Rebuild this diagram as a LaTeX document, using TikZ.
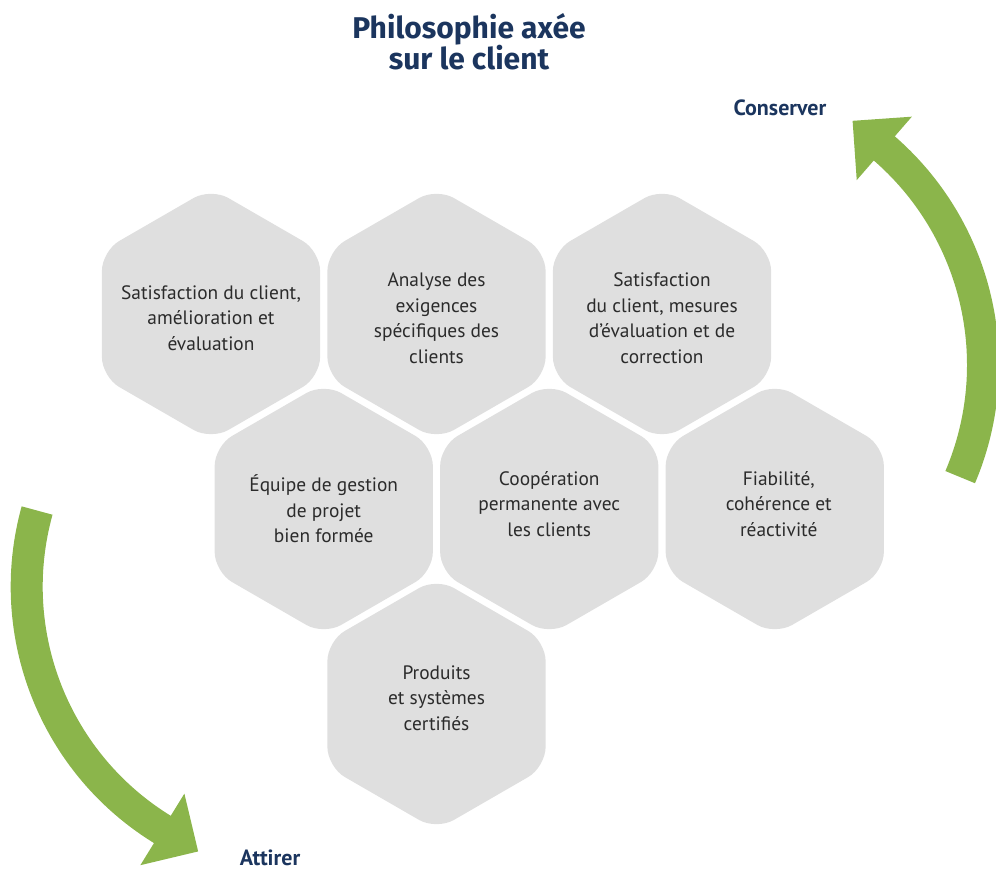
\documentclass[tikz,border=0pt]{standalone}
\usepackage{fontspec}
\setmainfont{PT Sans}
\newfontfamily\titlefont{Fira Sans}
\usetikzlibrary{calc}
\definecolor{hexgray}{HTML}{DFDFDF}
\definecolor{txtgray}{HTML}{2B2B2B}
\definecolor{arrgreen}{HTML}{8BB54B}
\definecolor{navy}{HTML}{1B355E}
\newcommand\hexshape[3]{%
  \coordinate (#1) at (#2,#3);
  \fill[hexbox] ($(#1)+(90:126)$) -- ($(#1)+(150:126)$) -- ($(#1)+(210:126)$) --
    ($(#1)+(270:126)$) -- ($(#1)+(330:126)$) -- ($(#1)+(30:126)$) -- cycle;}
\begin{document}
\begin{tikzpicture}[x=1pt,y=1pt,
  hexbox/.style={fill=hexgray, rounded corners=20pt},
  hextext/.style={align=center, text=txtgray, inner sep=0pt,
    font=\fontsize{19.4}{25.5}\selectfont},
  greenshaft/.style={draw=arrgreen, line width=32pt},
  greenhead/.style={fill=arrgreen},
  labeltext/.style={text=navy, inner sep=0pt, font=\bfseries\fontsize{22}{26}\selectfont}]
\path[use as bounding box] (0,0) rectangle (996,872);
% title
\node[text=navy, align=center, inner sep=0pt,
  font=\titlefont\bfseries\fontsize{30}{31}\selectfont] (title) at (469,830)
  {Philosophie axée\\sur le client};
% hexagons (y up: Y = 872 - y)
\hexshape{h1}{211}{558}
\hexshape{h2}{436.5}{558}
\hexshape{h3}{662}{558}
\hexshape{h4}{323.75}{363}
\hexshape{h5}{549.25}{363}
\hexshape{h6}{774.75}{363}
\hexshape{h7}{436.5}{168}
\node[hextext] (t1) at ($(h1)+(0,-4)$) {Satisfaction du client,\\amélioration et\\évaluation};
\node[hextext] (t2) at ($(h2)+(0,-4)$) {Analyse des\\exigences\\spécifiques des\\clients};
\node[hextext] (t3) at ($(h3)+(0,-4)$) {Satisfaction\\du client, mesures\\d’évaluation et de\\correction};
\node[hextext] (t4) at ($(h4)+(0,0)$) {Équipe de gestion\\de projet\\bien formée};
\node[hextext] (t5) at ($(h5)+(0,5)$) {Coopération\\permanente avec\\les clients};
\node[hextext] (t6) at ($(h6)+(4,5)$) {Fiabilité,\\cohérence et\\réactivité};
\node[hextext] (t7) at ($(h7)+(0,6)$) {Produits\\et systèmes\\certifiés};
% right arrow (Conserver)
\coordinate (cr) at (696,507);
\draw[greenshaft] ($(cr)+(-23:287)$) arc[start angle=-23, end angle=49.5, radius=287];
\fill[greenhead] ($(cr)+(49:329)$) -- ($(cr)+(49:287)+(139:42)$) -- ($(cr)+(49:245)$) -- cycle;
% left arrow (Attirer)
\coordinate (cl) at (311.7,285.3);
\draw[greenshaft] ($(cl)+(164.5:285)$) arc[start angle=164.5, end angle=238.9, radius=285];
\fill[greenhead] ($(cl)+(238.4:327)$) -- ($(cl)+(238.4:285)+(328.4:42)$) -- ($(cl)+(238.4:243)$) -- cycle;
% labels
\node[labeltext] (conserver) at (780,764) {Conserver};
\node[labeltext, anchor=base, text depth=0pt] (attirer) at (270,6) {Attirer};
\end{tikzpicture}
\end{document}
